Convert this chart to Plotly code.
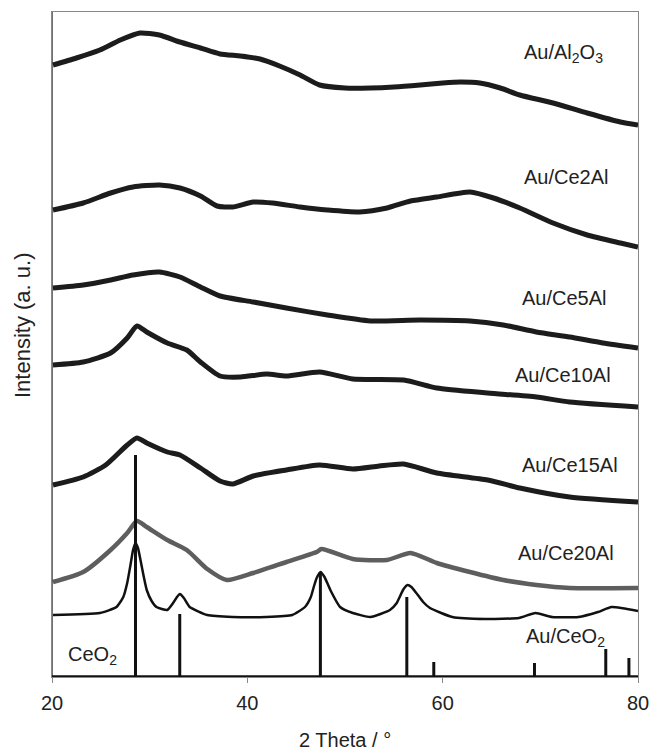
import plotly.graph_objects as go

# ---- data (2 theta in degrees, intensity in arbitrary units, offsets included) ----
theta_al2o3 = [20.1, 22.5, 24.9, 27, 29, 31, 33.1, 35.2, 37.2, 39.3, 41.3, 43.3, 45.4, 47.4, 50, 52.6, 55, 57.7, 60, 61.8, 63.8, 65.9, 67.9, 71.3, 74.8, 78.2, 80]
int_al2o3 = [612, 619, 627, 637, 644, 642, 635, 629, 623, 621, 618, 611, 602, 592, 589, 589, 590, 592, 594, 595, 594, 589, 582, 574, 564, 555, 552]

theta_ce2 = [20.1, 23.2, 26, 28.3, 31, 33.1, 35.2, 36.9, 38.5, 40.6, 42.6, 45.4, 48.2, 51.5, 54.3, 56.7, 59.4, 62.8, 65.2, 67.9, 71.3, 74.8, 78.2, 80]
int_ce2 = [467, 474, 484, 490, 492, 489, 481, 471, 470, 475, 474, 470, 467, 465, 469, 476, 480, 485, 479, 469, 454, 442, 434, 430]

theta_ce5 = [20.1, 23.2, 26, 28.3, 31, 33.1, 35.2, 37.2, 40.6, 44, 48.2, 52.6, 57.7, 62.8, 66.2, 69.6, 73, 76.4, 80]
int_ce5 = [389, 392, 397, 402, 405, 400, 390, 381, 375, 369, 362, 356, 357, 356, 352, 345, 340, 334, 329]

theta_ce10 = [20.1, 23.2, 26, 27.7, 28.7, 29.7, 31.8, 33.8, 35.2, 37.2, 39.3, 42, 44, 47.4, 50.8, 56, 59.4, 64.6, 69.6, 73, 80]
int_ce10 = [312, 315, 324, 339, 351, 345, 334, 327, 315, 301, 300, 303, 301, 305, 298, 297, 289, 284, 280, 275, 270]

theta_ce15 = [20.1, 23.2, 25.5, 27.7, 28.7, 29.7, 31.8, 33.1, 35.2, 37.2, 38.5, 40.6, 44, 47.4, 50.8, 53.5, 56, 59.4, 64.6, 67.9, 73, 80]
int_ce15 = [192, 200, 212, 232, 239, 234, 225, 222, 209, 196, 193, 201, 207, 212, 208, 211, 213, 204, 197, 189, 180, 175]

theta_ce20 = [20.1, 23.2, 26, 27.7, 28.7, 29.7, 31.8, 33.8, 35.9, 37.9, 40.6, 44, 47.1, 47.6, 50.8, 54.3, 56.7, 59.4, 62.8, 66.2, 69.6, 73, 80]
int_ce20 = [95, 105, 127, 144, 156, 150, 137, 127, 108, 97, 104, 115, 125, 128, 118, 117, 124, 114, 105, 97, 92, 89, 89]

theta_ceo2 = [20.1, 24.9, 26.6, 27.3, 27.7, 28.0, 28.3, 28.55, 28.8, 29.1, 29.4, 29.7, 30.2, 30.7, 31.8, 32.4, 32.8, 33.1, 33.5, 34.1, 35.9, 38.5, 41.9, 44.6, 45.9, 46.5, 46.8, 47.1, 47.5, 47.9, 48.5, 49.5, 50.8, 52.6, 54.6, 55.3, 55.6, 56.0, 56.4, 56.8, 57.3, 58.0, 58.7, 61, 64.4, 67.8, 69.5, 71.2, 73.9, 75.9, 77.3, 80]
int_ceo2 = [62, 64, 70, 80, 94, 110, 127, 134, 129, 115, 100, 87, 76, 70, 67, 74, 80, 83, 79, 70, 62, 60, 60, 62, 70, 80, 90, 99, 105, 100, 87, 70, 64, 60, 67, 74, 80, 88, 92, 90, 84, 75, 69, 60, 58, 59, 64, 60, 60, 65, 70, 66]

ref_positions = [28.55, 33.08, 47.48, 56.33, 59.09, 69.4, 76.7, 79.07]
ref_heights = [222, 63, 105, 80, 15, 14, 28, 19]

labels = ["Au/Al<sub>2</sub>O<sub>3</sub>", "Au/Ce2Al", "Au/Ce5Al", "Au/Ce10Al", "Au/Ce15Al", "Au/Ce20Al", "Au/CeO<sub>2</sub>"]
label_x = [68.1, 68.1, 67.9, 67.2, 67.9, 67.5, 68.3]
label_y = [624, 500, 379, 302, 212, 124, 40]

x_ticks = [20, 40, 60, 80]

FONT = "Liberation Sans, Arial, sans-serif"
fig = go.Figure()

series = [
    (theta_al2o3, int_al2o3, "#1c1c1c", 5),
    (theta_ce2, int_ce2, "#1c1c1c", 5),
    (theta_ce5, int_ce5, "#1c1c1c", 5),
    (theta_ce10, int_ce10, "#1c1c1c", 5),
    (theta_ce15, int_ce15, "#1c1c1c", 5),
    (theta_ce20, int_ce20, "#5e5e5e", 4.5),
]
for xs, ys, col, w in series:
    fig.add_trace(go.Scatter(x=xs, y=ys, mode="lines", line=dict(color=col, width=w, shape="spline", smoothing=0.6),
                             showlegend=False, hoverinfo="skip"))

fig.add_trace(go.Scatter(x=theta_ceo2, y=int_ceo2, mode="lines", line=dict(color="#111", width=2.5, shape="spline", smoothing=0.5),
                         showlegend=False, hoverinfo="skip"))

# reference sticks
sx, sy = [], []
for p, h in zip(ref_positions, ref_heights):
    sx += [p, p, None]
    sy += [0, h, None]
fig.add_trace(go.Scatter(x=sx, y=sy, mode="lines", line=dict(color="#111", width=3), showlegend=False, hoverinfo="skip"))
# baseline of the reference pattern
fig.add_trace(go.Scatter(x=[20, 80], y=[0, 0], mode="lines", line=dict(color="#111", width=3.5), showlegend=False,
                         hoverinfo="skip", cliponaxis=False))

for t, x, y in zip(labels, label_x, label_y):
    fig.add_annotation(x=x, y=y, text=t, showarrow=False, xanchor="left", yanchor="middle",
                       font=dict(family=FONT, size=20, color="#222"))
fig.add_annotation(x=21.4, y=22, text="CeO<sub>2</sub>", showarrow=False, xanchor="left", yanchor="middle",
                   font=dict(family=FONT, size=20, color="#222"))

fig.add_annotation(xref="paper", yref="paper", x=0.5, y=(677 - 740) / 665, text="2 Theta / °", showarrow=False,
                   xanchor="center", yanchor="middle", font=dict(family=FONT, size=20, color="#222"))
fig.add_annotation(xref="paper", yref="paper", x=(22 - 52) / 586, y=(677 - 325) / 665, text="Intensity (a. u.)",
                   showarrow=False, textangle=-90, xanchor="center", yanchor="middle",
                   font=dict(family=FONT, size=22, color="#222"))

fig.add_shape(type="line", xref="x", yref="paper", x0=20, x1=20, y0=0, y1=1, line=dict(color="#111", width=1.2))

fig.update_layout(
    template="none",
    width=651, height=750, autosize=False,
    margin=dict(l=52, r=13, t=12, b=73, pad=0),
    paper_bgcolor="white", plot_bgcolor="white",
    font=dict(family=FONT, size=20, color="#222"),
)
fig.update_xaxes(range=[20, 80], tickvals=x_ticks, ticktext=[str(v) for v in x_ticks], ticks="outside", ticklen=5,
                 tickcolor="#888", showline=True, linecolor="#888", linewidth=1, mirror=True, showgrid=False,
                 zeroline=False, automargin=False, ticklabelstandoff=3,
                 tickfont=dict(family=FONT, size=20, color="#222"))
fig.update_yaxes(range=[0, 665], showticklabels=False, ticks="", showline=True, linecolor="#888", linewidth=1,
                 mirror=True, showgrid=False, zeroline=False, automargin=False)

fig.write_html("out.html", config={"displayModeBar": False, "responsive": False},
               post_script="document.body.style.margin='0';document.body.style.overflow='hidden';")
